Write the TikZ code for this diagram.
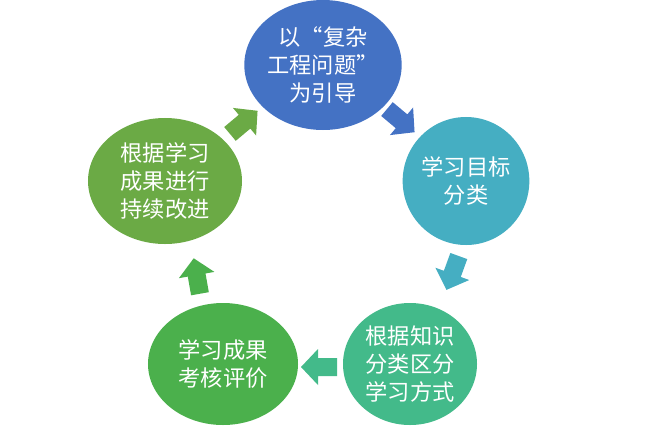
\documentclass[tikz,border=0pt]{standalone}
\usepackage{fontspec}
\newfontfamily\cjk{Noto Sans CJK SC}[BoldFont={Noto Sans CJK SC Bold}]
\usetikzlibrary{positioning,shapes.geometric}
\definecolor{cblue}{HTML}{4472C4}
\definecolor{cteal}{HTML}{45AEC2}
\definecolor{cmint}{HTML}{43BA8A}
\definecolor{cgreen}{HTML}{4BB04C}
\definecolor{colive}{HTML}{6BAA45}
\tikzset{
  stage/.style={ellipse, fill=#1, text=white, align=center, inner sep=0pt,
    font=\cjk\fontsize{19}{24}\selectfont}
}
\newcommand{\blockarrow}[3]{%
  \fill[#3, shift={(#1)}, rotate=#2]
    (-17,-9) -- (2,-9) -- (2,-18) -- (19,0) -- (2,18)
    -- (2,9) -- (-17,9) -- cycle;}
\begin{document}
\begin{tikzpicture}[x=0.03cm,y=0.03cm]
\useasboundingbox (0,0) rectangle (648,435);

% circles
\node[stage=cblue, minimum width=4.32cm, minimum height=3.9cm] (guide) at (323,370)
  {以“复杂\\工程问题”\\为引导};
\node[stage=cteal, minimum width=3.8cm, minimum height=3.84cm] (goal) at (466,254)
  {学习目标\\分类};
\node[stage=cmint, minimum width=4.02cm, minimum height=3.66cm] (mode) at (410,71)
  {根据知识\\分类区分\\学习方式};
\node[stage=cgreen, minimum width=4.5cm, minimum height=3.66cm] (assess) at (223,71)
  {学习成果\\考核评价};
\node[stage=colive, minimum width=4.62cm, minimum height=3.78cm] (improve) at (165,254)
  {根据学习\\成果进行\\持续改进};

% arrows
\blockarrow{400,315}{-40}{cblue}
\blockarrow{453,163}{-110}{cteal}
\blockarrow{320,68}{180}{cmint}
\blockarrow{197,158}{100}{cgreen}
\blockarrow{243,312}{40}{colive}
\end{tikzpicture}
\end{document}
